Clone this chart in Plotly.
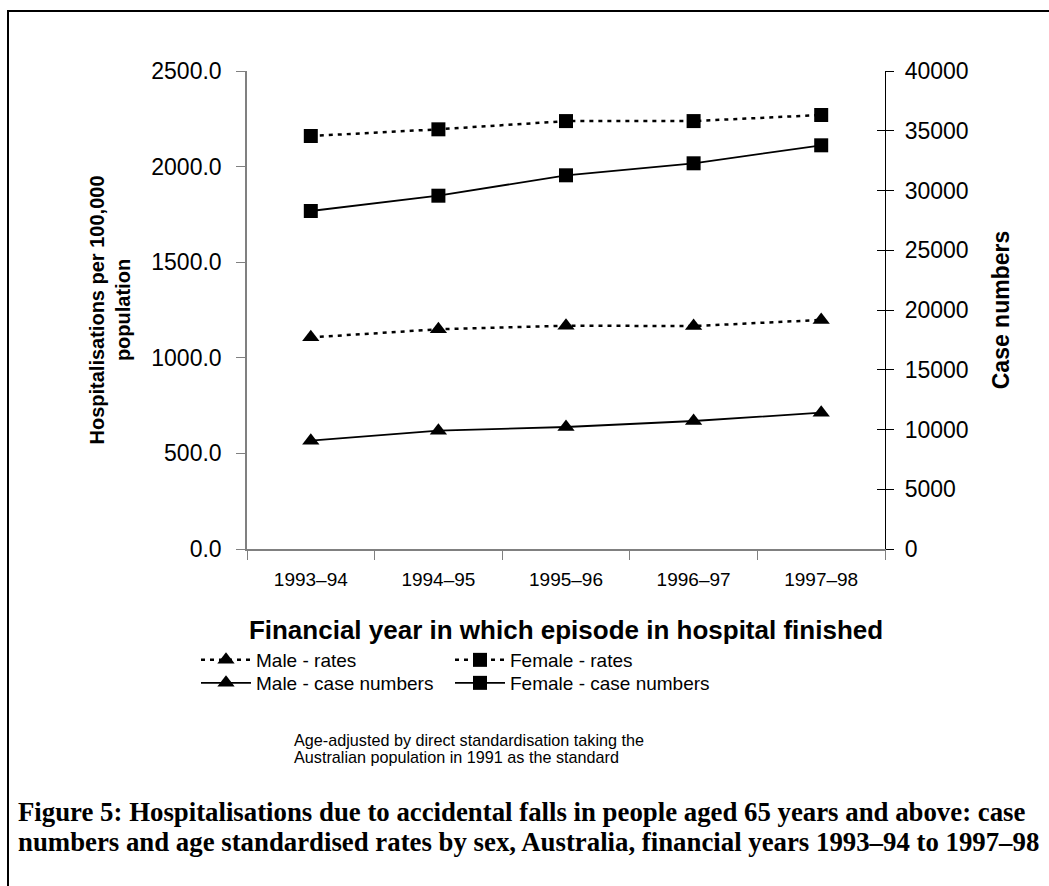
import plotly.graph_objects as go

years = ["1993–94", "1994–95", "1995–96", "1996–97", "1997–98"]
male_rates = [1107, 1149, 1168, 1166, 1198]
female_rates = [2160, 2195, 2238, 2238, 2270]
male_cases = [9063, 9900, 10209, 10711, 11406]
female_cases = [28285, 29565, 31272, 32276, 33782]

left_ticks = [0, 500, 1000, 1500, 2000, 2500]
right_ticks = [0, 5000, 10000, 15000, 20000, 25000, 30000, 35000, 40000]

W, H = 1049, 886
L, R, T, B = 247, 885, 71, 549
pw, ph = R - L, B - T


def px(x):
    return (x - L) / pw


def py(y):
    return (B - y) / ph


SANS = "Liberation Sans, Arial, sans-serif"
SERIF = "Liberation Serif, Times New Roman, serif"
DOT = "4px,5px"

fig = go.Figure()
fig.add_trace(go.Scatter(
    x=years, y=male_rates, name="Male - rates", yaxis="y", legend="legend",
    mode="lines+markers", line=dict(color="black", width=2.5, dash=DOT),
    marker=dict(symbol="triangle-up", size=15, color="black")))
fig.add_trace(go.Scatter(
    x=years, y=male_cases, name="Male - case numbers", yaxis="y2", legend="legend3",
    mode="lines+markers", line=dict(color="black", width=1.8),
    marker=dict(symbol="triangle-up", size=15, color="black")))
fig.add_trace(go.Scatter(
    x=years, y=female_rates, name="Female - rates", yaxis="y", legend="legend2",
    mode="lines+markers", line=dict(color="black", width=2.5, dash=DOT),
    marker=dict(symbol="square", size=14, color="black")))
fig.add_trace(go.Scatter(
    x=years, y=female_cases, name="Female - case numbers", yaxis="y2", legend="legend4",
    mode="lines+markers", line=dict(color="black", width=1.8),
    marker=dict(symbol="square", size=14, color="black")))
# invisible trace to carry the inner half of the right-axis cross ticks
fig.add_trace(go.Scatter(x=years, y=male_cases, yaxis="y3", showlegend=False,
                         mode="none", hoverinfo="skip"))


def leg(x, y):
    return dict(x=px(x), y=py(y), xanchor="left", yanchor="top",
                orientation="v", font=dict(size=19), bgcolor="rgba(0,0,0,0)",
                itemwidth=50, tracegroupgap=0)


fig.update_layout(
    width=W, height=H,
    margin=dict(l=L, r=W - R, t=T, b=H - B),
    paper_bgcolor="white", plot_bgcolor="white",
    font=dict(family=SANS, size=20, color="black"),
    xaxis=dict(
        type="category", range=[-0.5, 4.5], tickson="boundaries",
        ticks="outside", ticklen=9, tickcolor="#808080",
        showline=True, linecolor="#808080", linewidth=1.5,
        showgrid=False, zeroline=False,
        tickfont=dict(size=19), ticklabelstandoff=12,
        title=dict(text="<b>Financial year in which episode in hospital finished</b>",
                   font=dict(size=26), standoff=32),
    ),
    yaxis=dict(
        range=[0, 2500], tickvals=left_ticks, tickformat=".1f",
        ticks="outside", ticklen=9, tickcolor="#808080",
        showline=True, linecolor="#808080", linewidth=1.5,
        showgrid=False, zeroline=False, tickfont=dict(size=23),
        ticklabelstandoff=10,
        title=dict(text="<b>Hospitalisations per 100,000<br>population</b>",
                   font=dict(size=20), standoff=15),
    ),
    yaxis2=dict(
        range=[0, 40000], tickvals=right_ticks, tickformat="d",
        overlaying="y", side="right",
        ticks="outside", ticklen=8, tickcolor="black",
        showline=True, linecolor="black", linewidth=1.2,
        showgrid=False, zeroline=False, tickfont=dict(size=23),
        ticklabelstandoff=6,
        title=dict(text="<b>Case numbers</b>", font=dict(size=23), standoff=25),
    ),
    yaxis3=dict(
        range=[0, 40000], tickvals=right_ticks, overlaying="y", side="right",
        ticks="inside", ticklen=8, tickcolor="black", showticklabels=False,
        showline=False, showgrid=False, zeroline=False,
    ),
    legend=leg(196, 641),
    legend2=leg(450, 641),
    legend3=leg(196, 664),
    legend4=leg(450, 664),
    showlegend=True,
)

foot = ["Age-adjusted by direct standardisation taking the",
        "Australian population in 1991 as the standard"]
for i, line in enumerate(foot):
    fig.add_annotation(
        text=line, xref="paper", yref="paper", x=px(292), y=py(740 + 17 * i),
        xanchor="left", yanchor="middle", align="left", showarrow=False,
        font=dict(family=SANS, size=16.2))

caption = ["Figure 5: Hospitalisations due to accidental falls in people aged 65 years and above: case",
           "numbers and age standardised rates by sex, Australia, financial years 1993–94 to 1997–98"]
for i, line in enumerate(caption):
    fig.add_annotation(
        text="<b>" + line + "</b>", xref="paper", yref="paper",
        x=px(16), y=py(812 + 30 * i), xanchor="left", yanchor="middle",
        align="left", showarrow=False, font=dict(family=SERIF, size=26.8))

# outer frame (left and top edges visible)
fig.add_shape(type="rect", xref="paper", yref="paper",
              x0=px(8), x1=px(1080), y0=py(920), y1=py(11),
              line=dict(color="black", width=2), layer="above")

fig.write_html("out.html", config={"displayModeBar": False},
               post_script="document.body.style.margin='0';")
